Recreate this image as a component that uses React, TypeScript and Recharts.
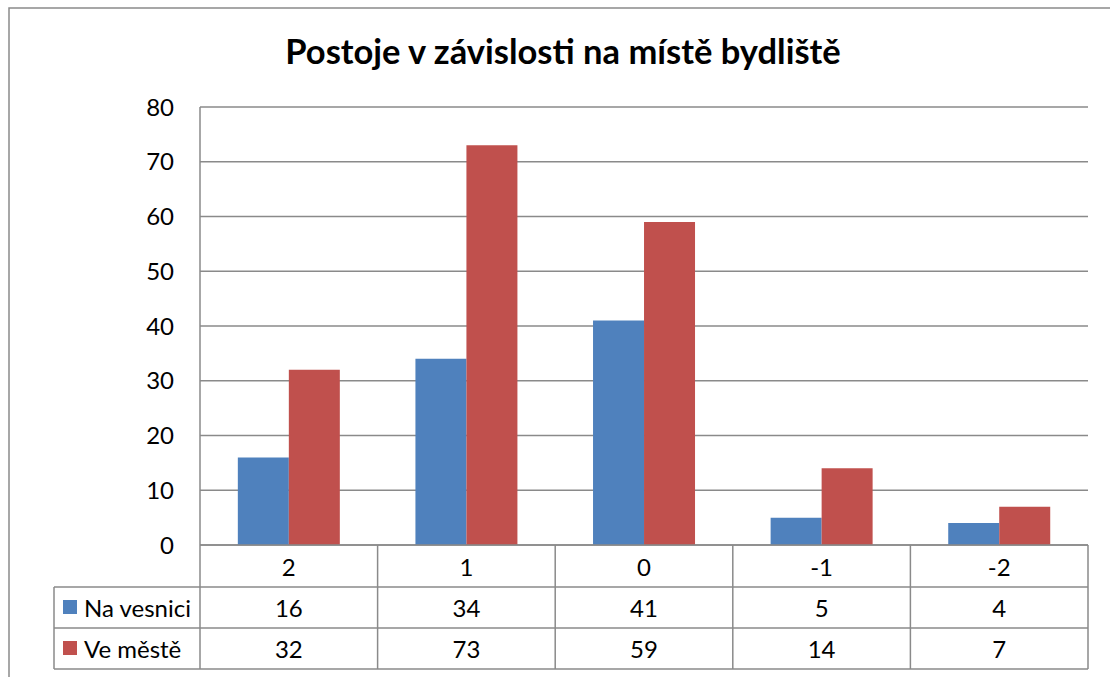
import React from 'react';
import { BarChart, Bar, XAxis, YAxis, CartesianGrid, Customized } from 'recharts';

const categories = ['2', '1', '0', '-1', '-2'];
const naVesnici = [16, 34, 41, 5, 4];
const veMeste = [32, 73, 59, 14, 7];
const yTicks = [0, 10, 20, 30, 40, 50, 60, 70, 80];

const seriesNames = ['Na vesnici', 'Ve městě'];
const seriesColors = ['#4F81BD', '#C0504D'];

const data = categories.map((c, i) => ({
	name: c,
	vesnice: naVesnici[i],
	mesto: veMeste[i],
}));

const W = 1110;
const H = 677;
const PLOT_LEFT = 200;
const PLOT_RIGHT = 1088;
const PLOT_TOP = 107;
const PLOT_BOTTOM = 545;
const ROW1 = 587;
const ROW2 = 628;
const ROW3 = 669;
const LEGEND_LEFT = 54;
const LINE = '#8a8a8a';
const FONT = 'Lato, "Open Sans", sans-serif';
const FS = 24;

const band = (PLOT_RIGHT - PLOT_LEFT) / categories.length;

// x axis tick = one column of the data table
const TableTick = (props: any) => {
	const { x, payload } = props;
	const i = payload.index;
	const left = x - band / 2;
	const right = x + band / 2;
	return (
		<g>
			<line x1={right} y1={PLOT_BOTTOM} x2={right} y2={ROW3} stroke={LINE} strokeWidth={1.5} />
			{i === 0 && <line x1={left} y1={PLOT_BOTTOM} x2={left} y2={ROW3} stroke={LINE} strokeWidth={1.5} />}
			<text x={x} y={566} textAnchor="middle" dominantBaseline="central" fontSize={FS} fill="#000" fontFamily={FONT}>
				{payload.value}
			</text>
			<text x={x} y={607} textAnchor="middle" dominantBaseline="central" fontSize={FS} fill="#000" fontFamily={FONT}>
				{naVesnici[i]}
			</text>
			<text x={x} y={648} textAnchor="middle" dominantBaseline="central" fontSize={FS} fill="#000" fontFamily={FONT}>
				{veMeste[i]}
			</text>
		</g>
	);
};

const TableFrame = () => (
	<g>
		<rect x={9} y={8} width={W + 10} height={H + 10} fill="none" stroke={LINE} strokeWidth={1.5} />
		<line x1={PLOT_LEFT} y1={PLOT_TOP} x2={PLOT_LEFT} y2={PLOT_BOTTOM} stroke={LINE} strokeWidth={1.5} />
		{[ROW1, ROW2, ROW3].map((y) => (
			<line key={y} x1={LEGEND_LEFT} y1={y} x2={PLOT_RIGHT} y2={y} stroke={LINE} strokeWidth={1.5} />
		))}
		<line x1={LEGEND_LEFT} y1={ROW1} x2={LEGEND_LEFT} y2={ROW3} stroke={LINE} strokeWidth={1.5} />
		{seriesNames.map((name, i) => {
			const cy = i === 0 ? 607 : 648;
			return (
				<g key={name}>
					<rect x={63} y={cy - 7} width={14} height={14} fill={seriesColors[i]} />
					<text x={84} y={cy} dominantBaseline="central" fontSize={FS} fill="#000" fontFamily={FONT}>
						{name}
					</text>
				</g>
			);
		})}
		<text x={563} y={50} textAnchor="middle" dominantBaseline="central" fontSize={34.5} fontWeight="bold" fill="#000" fontFamily={FONT}>
			Postoje v závislosti na místě bydliště
		</text>
	</g>
);

const App = () => {
	return (
		<div style={{ position: 'absolute', left: 0, top: 0, width: W, height: H, background: '#fff', overflow: 'hidden' }}>
			<BarChart
				width={W}
				height={H}
				data={data}
				margin={{ top: PLOT_TOP, right: W - PLOT_RIGHT, bottom: 0, left: PLOT_LEFT - 60 }}
				barCategoryGap="21.3%"
				barGap={0}
			>
				<CartesianGrid vertical={false} stroke={LINE} strokeWidth={1.5} />
				<XAxis
					dataKey="name"
					height={H - PLOT_BOTTOM}
					axisLine={{ stroke: LINE, strokeWidth: 1.5 }}
					tickLine={false}
					tick={<TableTick />}
					interval={0}
				/>
				<YAxis
					width={60}
					domain={[0, 80]}
					ticks={yTicks}
					axisLine={false}
					tickLine={false}
					tickMargin={20}
					tick={{ fontSize: FS, fill: '#000', fontFamily: FONT }}
				/>
				<Bar dataKey="vesnice" fill={seriesColors[0]} isAnimationActive={false} />
				<Bar dataKey="mesto" fill={seriesColors[1]} isAnimationActive={false} />
				<Customized component={TableFrame} />
			</BarChart>
		</div>
	);
};

export default App;
